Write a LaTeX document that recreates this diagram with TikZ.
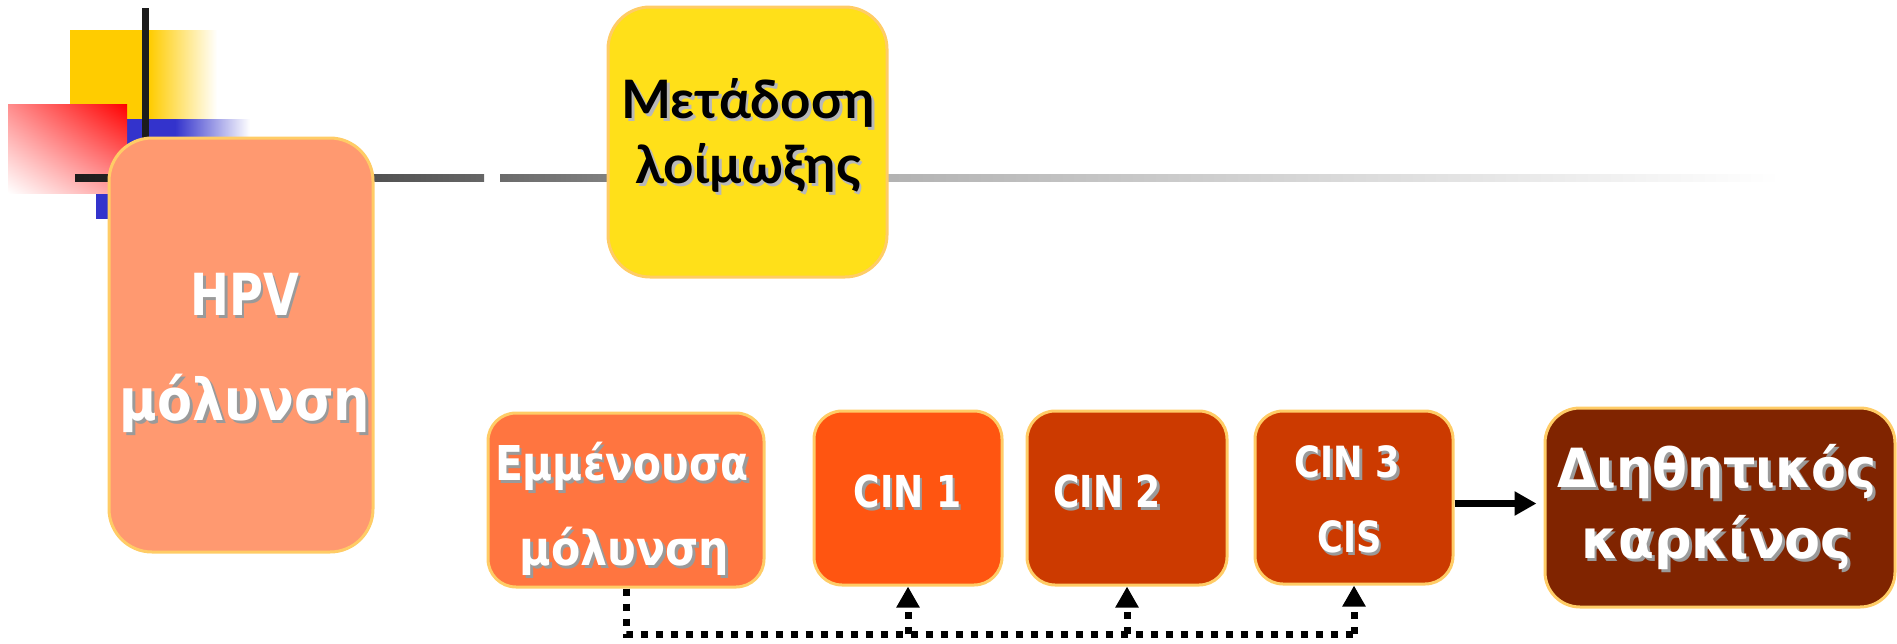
\documentclass[tikz,border=0pt]{standalone}
\usepackage{fontspec}
\usepackage{graphicx}
\usetikzlibrary{arrows.meta,shadings}
\newfontfamily\wfont{DejaVu Sans}
\newfontfamily\lfont{Lato}
\definecolor{hpvc}{HTML}{FF9970}
\definecolor{yelc}{HTML}{FFE019}
\definecolor{emmc}{HTML}{FF7540}
\definecolor{cinAc}{HTML}{FF5511}
\definecolor{cinBc}{HTML}{CC3A00}
\definecolor{invc}{HTML}{802400}
\definecolor{edgec}{HTML}{FFCC66}
\definecolor{decoY}{HTML}{FFCC00}
\definecolor{decoB}{HTML}{3333CC}
\definecolor{decoK}{HTML}{1C1C1C}
\definecolor{shw}{HTML}{9A9A9A}
\definecolor{shb}{HTML}{B8B8B8}
\newcommand{\wtxt}[2]{\scalebox{#1}[1]{\rlap{\kern3pt\raisebox{-3pt}{\textcolor{shw}{#2}}}#2}}
\newcommand{\btxt}[2]{\scalebox{#1}[1]{\rlap{\kern3pt\raisebox{-3pt}{\textcolor{shb}{#2}}}#2}}
\begin{document}
\begin{tikzpicture}[x=1pt,y=-1pt,
  box/.style={draw=edgec, line width=3pt, inner sep=0pt, rounded corners=28pt},
  wlab/.style={anchor=base, inner sep=0pt, text=white, font=\wfont\bfseries},
  blab/.style={anchor=base, inner sep=0pt, text=black, font=\lfont\bfseries},
  dots/.style={line width=7pt, dash pattern=on 7pt off 8pt, black},
  uptip/.style={-{Triangle[length=21pt,width=22pt]}}
]
\useasboundingbox (0,0) rectangle (1897,643);
% decorations
\fill[decoY] (70,30) rectangle (149,119);
\shade[left color=decoY, right color=white] (149,30) rectangle (217,119);
\fill[decoB] (96,119) rectangle (175,219);
\shade[left color=decoB, right color=white] (175,119) rectangle (250,219);
\shade[upper left=red!45!white, upper right=red, lower left=white, lower right=red!40!white] (8,104) rectangle (127,193);
\draw[decoK, line width=7pt] (145.5,8) -- (145.5,140);
\shade[left color=decoK, right color=black!60] (75,174) rectangle (484,181);
\shade[left color=black!58, right color=black!50] (500,174) rectangle (608,181);
\shade[left color=black!30, middle color=black!7, right color=white] (887,174) rectangle (1780,181);
% boxes
\node[box, fill=hpvc, rounded corners=43pt, minimum width=264pt, minimum height=414pt] (hpv) at (241,345) {};
\node[box, fill=yelc, rounded corners=42pt, minimum width=279pt, minimum height=270pt] (yel) at (747.5,142) {};
\node[box, fill=emmc, minimum width=276pt, minimum height=174pt] (emm) at (626,500) {};
\node[box, fill=cinAc, minimum width=188pt, minimum height=174pt] (cin1) at (908,498) {};
\node[box, fill=cinBc, minimum width=200pt, minimum height=174pt] (cin2) at (1127,498) {};
\node[box, fill=cinBc, minimum width=198pt, minimum height=173pt] (cis) at (1354,497.5) {};
\node[box, fill=invc, rounded corners=35pt, minimum width=350pt, minimum height=199pt] (inv) at (1720,507.5) {};
% texts
\node[wlab, font=\wfont\bfseries\fontsize{58}{60}\selectfont] (hpvA) at (245,315) {\wtxt{0.8}{HPV}};
\node[wlab, font=\wfont\bfseries\fontsize{58}{60}\selectfont] (hpvB) at (245,420) {\wtxt{0.88}{μόλυνση}};
\node[blab, font=\lfont\bfseries\fontsize{53}{55}\selectfont] (yelA) at (748,118) {\btxt{1}{Μετάδοση}};
\node[blab, font=\lfont\bfseries\fontsize{53}{55}\selectfont] (yelB) at (748,183) {\btxt{1}{λοίμωξης}};
\node[wlab, font=\wfont\bfseries\fontsize{48}{50}\selectfont] (emmA) at (622,480) {\wtxt{0.85}{Εμμένουσα}};
\node[wlab, font=\wfont\bfseries\fontsize{48}{50}\selectfont] (emmB) at (624.5,565) {\wtxt{0.89}{μόλυνση}};
\node[wlab, font=\wfont\bfseries\fontsize{44}{46}\selectfont] (cin1T) at (907.5,507) {\wtxt{0.82}{CIN 1}};
\node[wlab, font=\wfont\bfseries\fontsize{44}{46}\selectfont] (cin2T) at (1107,507) {\wtxt{0.82}{CIN 2}};
\node[wlab, font=\wfont\bfseries\fontsize{43}{46}\selectfont] (cisA) at (1347.5,477) {\wtxt{0.82}{CIN 3}};
\node[wlab, font=\wfont\bfseries\fontsize{43}{46}\selectfont] (cisB) at (1349.5,552) {\wtxt{0.82}{CIS}};
\node[wlab, font=\wfont\bfseries\fontsize{54}{56}\selectfont] (invA) at (1717,487) {\wtxt{0.94}{Διηθητικός}};
\node[wlab, font=\wfont\bfseries\fontsize{54}{56}\selectfont] (invB) at (1716.5,558) {\wtxt{0.97}{καρκίνος}};
% connectors
\coordinate (arry) at (0,503.5);
\draw[line width=7pt, -{Triangle[length=22pt,width=23pt]}, shorten >=7pt] (cis.east |- arry) -- (inv.west |- arry);
\coordinate (bus) at (0,634);
\draw[dots] (emm.south) -- (emm.south |- bus) -- (cis.south |- bus);
\draw[dots, uptip] (cin1.south |- bus) -- (cin1.south);
\draw[dots, uptip] (cin2.south |- bus) -- (cin2.south);
\draw[dots, uptip] (cis.south |- bus) -- (cis.south);
\end{tikzpicture}
\end{document}
